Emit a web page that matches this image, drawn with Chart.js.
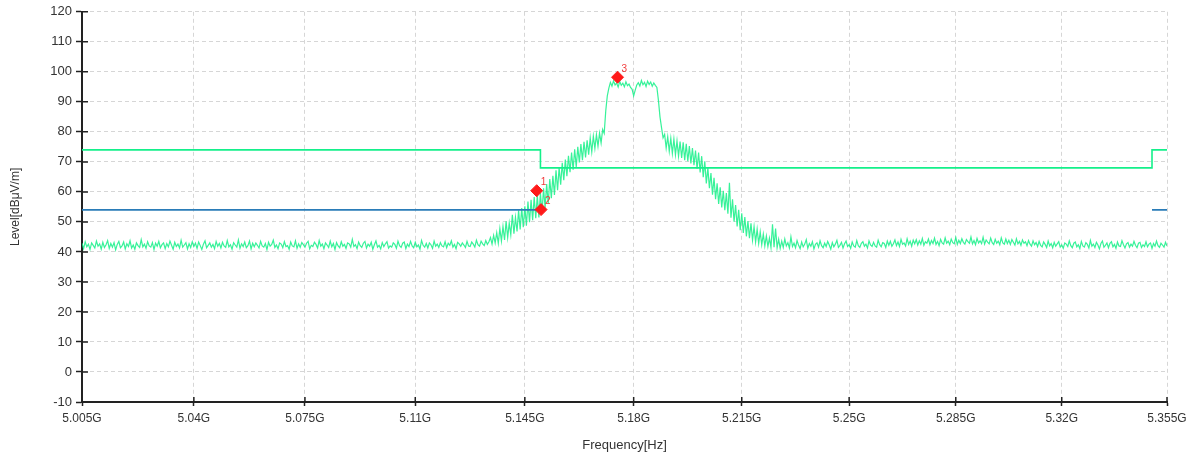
<!DOCTYPE html>
<html>
<head>
<meta charset="utf-8">
<script src="https://cdn.jsdelivr.net/npm/chart.js@4.4.1/dist/chart.umd.min.js"></script>
<style>
  body { margin: 0; background: #fff; }
  #grafico { display: block; }
</style>
</head>
<body>
<canvas id="grafico" width="1198" height="459"></canvas>
<script>
// eixo X (GHz, escala log) e eixo Y (dBuV/m)
const freqTicks = [5.005, 5.04, 5.075, 5.11, 5.145, 5.18, 5.215, 5.25, 5.285, 5.32, 5.355];
const levelMin = -10;
const levelMax = 120;

// traco medido, em 5 trechos; passo de 0.0005 GHz
const sweepStep = 0.0005;
const segStart = [5.005, 5.134, 5.172, 5.188, 5.228];

const pisoEsquerdo = [
  42.9, 41.1, 43.4, 41.7, 42.6, 40.8, 43.0, 42.2, 41.3, 43.6,
  41.9, 42.7, 40.9, 43.2, 41.5, 42.4, 43.8, 41.2, 42.8, 41.6,
  43.1, 40.7, 42.5, 43.5, 41.4, 42.0, 43.3, 41.0, 42.7, 41.8,
  43.7, 41.3, 42.3, 40.9, 43.0, 42.1, 41.5, 44.1, 41.7, 42.6,
  41.2, 43.4, 42.0, 41.6, 43.1, 40.8, 42.9, 41.9, 43.5, 41.4,
  42.4, 43.0, 41.1, 42.8, 41.7, 43.6, 42.2, 40.9, 43.2, 41.8,
  42.6, 41.3, 43.9, 41.6, 42.3, 43.1, 41.0, 42.7, 41.5, 43.4,
  41.8, 42.9, 41.2, 43.3, 42.1, 40.8, 42.6, 43.7, 41.4, 42.2,
  43.0, 41.6, 42.5, 41.1, 43.5, 41.9, 42.8, 41.3, 43.2, 42.0,
  41.5, 43.8, 41.7, 42.4, 40.9, 43.1, 42.3, 41.6, 44.0, 41.2,
  42.7, 41.8, 43.3, 41.4, 42.1, 43.6, 41.0, 42.9, 41.7, 43.0,
  42.2, 41.3, 43.5, 42.0, 41.6, 42.8, 40.8, 43.2, 41.9, 42.5,
  43.9, 41.5, 42.3, 41.1, 43.0, 42.6, 41.4, 43.4, 41.8, 42.1,
  40.9, 43.3, 42.0, 41.7, 43.7, 41.2, 42.7, 41.5, 43.1, 42.4,
  41.6, 42.9, 43.5, 41.0, 42.2, 41.8, 43.2, 42.5, 41.3, 43.8,
  41.9, 42.6, 41.1, 43.0, 42.3, 41.5, 43.6, 41.7, 42.8, 40.8,
  43.1, 42.0, 41.4, 43.4, 41.9, 42.5, 41.2, 43.0, 42.7, 41.6,
  44.2, 41.8, 42.4, 41.1, 43.3, 42.1, 41.5, 42.9, 43.5, 41.3,
  42.6, 41.9, 43.2, 40.9, 42.4, 43.7, 41.6, 42.2, 41.0, 43.1,
  41.8, 42.7, 43.4, 41.3, 42.0, 41.6, 43.0, 42.5, 41.2, 43.6,
  42.1, 41.5, 42.9, 43.3, 41.1, 42.6, 41.8, 43.5, 42.0, 41.4,
  43.2, 41.7, 42.3, 40.9, 43.8, 42.2, 41.6, 42.8, 41.3, 43.0,
  42.4, 41.2, 43.6, 41.9, 42.6, 41.5, 43.1, 42.0, 41.7, 43.4,
  41.4, 42.9, 42.2, 43.7, 41.6, 42.5, 41.1, 43.2, 42.7, 41.9,
  43.0, 42.3, 41.5, 43.5, 42.0, 41.8, 43.3, 42.6, 41.6, 43.9,
  42.4, 41.9, 43.6, 42.7, 42.1, 43.8, 42.5, 43.4
];

const subida = [
  44.8, 42.6, 45.5, 43.0, 46.4, 42.9, 47.8, 43.6, 48.5, 44.0,
  50.2, 44.8, 49.6, 45.7, 52.4, 46.1, 51.5, 46.8, 53.9, 47.5,
  54.6, 48.2, 55.2, 48.7, 56.8, 49.9, 57.4, 50.6, 58.3, 51.2,
  58.9, 51.5, 59.6, 52.8, 61.2, 54.7, 62.6, 56.1, 64.3, 57.9,
  65.4, 59.0, 67.2, 60.6, 68.1, 62.4, 69.7, 63.9, 70.8, 65.2,
  72.0, 66.6, 73.1, 67.4, 74.2, 68.3, 75.0, 69.8, 75.9, 70.6,
  76.7, 71.5, 77.2, 72.4, 78.0, 73.3, 78.6, 74.5, 79.1, 75.2,
  79.6, 76.3, 80.8, 79.5, 87.0, 92.0
];

const topo = [
  94.6, 96.5, 95.2, 97.0, 95.6, 96.3, 94.9, 96.8, 95.5, 96.2,
  95.0, 96.7, 95.4, 95.9, 94.8, 94.2, 92.0, 93.9, 95.6, 96.4,
  95.3, 97.1, 95.7, 96.5, 95.1, 96.9, 95.8, 96.6, 95.2, 96.3,
  95.5, 94.8
];

const descida = [
  90.5, 85.0, 81.4, 78.0, 79.2, 74.6, 78.4, 73.5, 77.9, 72.8,
  77.6, 72.4, 77.0, 71.9, 76.8, 71.3, 76.5, 70.6, 76.0, 70.2,
  75.3, 69.5, 74.6, 68.9, 73.8, 67.7, 73.1, 66.5, 71.9, 64.9,
  70.2, 62.8, 68.0, 61.2, 66.3, 59.1, 64.7, 57.6, 62.9, 56.0,
  61.5, 54.8, 60.4, 53.9, 59.6, 52.7, 63.0, 51.4, 57.5, 50.1,
  55.6, 48.5, 54.0, 47.2, 52.9, 46.3, 51.6, 45.2, 50.3, 44.6,
  49.5, 43.9, 48.4, 43.3, 47.6, 42.8, 46.7, 42.4, 45.9, 42.0,
  45.3, 41.8, 44.6, 41.5, 49.2, 41.6, 47.8, 41.4, 44.2, 41.2
];

const pisoDireito = [
  43.6, 41.5, 44.3, 42.0, 43.1, 41.3, 45.0, 41.8, 42.9, 41.4,
  43.8, 42.2, 41.1, 43.3, 41.7, 42.6, 44.1, 41.2, 42.8, 41.9,
  43.4, 41.0, 42.5, 43.0, 41.6, 43.7, 42.1, 41.4, 42.9, 41.8,
  43.5, 42.3, 40.9, 43.1, 41.7, 42.6, 43.9, 41.5, 42.2, 43.2,
  41.3, 42.7, 43.6, 41.8, 42.4, 41.2, 43.3, 42.0, 41.6, 43.8,
  42.1, 41.5, 42.9, 43.4, 41.9, 42.6, 41.3, 43.7, 42.3, 41.8,
  43.2, 42.0, 41.6, 43.9, 42.4, 41.7, 43.1, 42.8, 41.5, 43.6,
  42.2, 43.5, 41.9, 42.7, 44.0, 42.1, 43.3, 41.8, 44.2, 42.6,
  43.0, 42.0, 44.4, 42.5, 43.6, 41.9, 43.9, 42.7, 44.1, 42.3,
  43.7, 42.6, 44.5, 42.2, 43.4, 42.9, 44.3, 42.4, 43.8, 42.8,
  44.6, 42.5, 43.5, 42.1, 44.2, 43.0, 42.6, 44.7, 42.9, 43.6,
  42.4, 44.3, 43.1, 42.7, 44.8, 42.5, 43.9, 42.8, 44.4, 43.2,
  42.6, 44.1, 43.4, 42.9, 45.0, 42.7, 43.8, 42.4, 44.5, 43.0,
  43.7, 42.8, 44.9, 42.6, 44.0, 43.3, 42.7, 44.6, 43.1, 42.5,
  44.2, 42.9, 43.6, 42.4, 44.7, 43.0, 42.6, 44.3, 42.8, 43.9,
  42.5, 44.1, 43.2, 42.3, 44.4, 42.7, 43.5, 42.2, 44.0, 42.9,
  43.4, 42.1, 43.8, 42.6, 41.9, 43.7, 42.4, 43.1, 41.8, 43.5,
  42.2, 41.7, 43.3, 42.5, 41.5, 43.6, 42.0, 42.8, 41.4, 43.2,
  41.9, 42.7, 43.4, 41.6, 42.3, 41.2, 43.0, 42.6, 41.8, 43.7,
  42.1, 41.4, 42.9, 43.3, 41.7, 42.4, 41.1, 43.5, 42.0, 41.6,
  43.1, 42.5, 41.3, 43.8, 41.9, 42.6, 41.5, 43.2, 42.3, 41.0,
  42.8, 43.6, 41.6, 42.2, 43.0, 41.4, 42.9, 43.4, 41.7, 42.5,
  41.2, 43.3, 42.0, 41.8, 43.7, 42.4, 41.3, 42.7, 43.1, 41.6,
  42.6, 41.9, 43.5, 42.2, 41.4, 42.9, 43.2, 41.5, 42.4, 41.8,
  43.4, 41.7, 42.6, 43.0, 41.2, 42.8, 41.9, 43.6, 42.1, 41.5,
  42.9, 42.3, 41.6, 43.2, 42.0
];

const trechos = [pisoEsquerdo, subida, topo, descida, pisoDireito];

// linha limite (pico) e linha limite (media)
const limitFreq = [5.005, 5.15, 5.15, 5.35, 5.35, 5.355];
const limitLevel = [74, 74, 68, 68, 74, 74];
const avgFreq = [5.005, 5.15, 5.15, 5.35, 5.355];
const avgLevel = [54, 54, null, 54, 54];

// marcadores
const markerFreq = [5.1488, 5.1502, 5.1748];
const markerLevel = [60.4, 54.1, 98.2];
const markerName = ["1", "2", "3"];

const corVerde = "#14f08a";
const corAzul = "#2a7cb8";
const corVermelho = "#ff1a1a";
const fonte = "'Liberation Sans', Arial, sans-serif";

function pontos(xs, ys) {
  return xs.map((x, i) => ({ x: x, y: ys[i] }));
}

const traceData = [];
trechos.forEach((trecho, k) => {
  trecho.forEach((v, i) => {
    traceData.push({ x: +(segStart[k] + i * sweepStep).toFixed(5), y: v });
  });
});

// marcas dos eixos para dentro da area + nomes dos marcadores
const marcasInternas = {
  id: "marcasInternas",
  afterDatasetsDraw(chart) {
    const ctx = chart.ctx;
    const sx = chart.scales.x;
    const sy = chart.scales.y;
    const area = chart.chartArea;
    ctx.save();
    ctx.strokeStyle = "#222";
    ctx.lineWidth = 1.5;
    ctx.beginPath();
    freqTicks.forEach((f) => {
      const px = sx.getPixelForValue(f);
      ctx.moveTo(px, area.bottom);
      ctx.lineTo(px, area.bottom - 5);
    });
    sy.ticks.forEach((t) => {
      const py = sy.getPixelForValue(t.value);
      ctx.moveTo(area.left, py);
      ctx.lineTo(area.left + 6, py);
    });
    ctx.stroke();

    const meta = chart.getDatasetMeta(0);
    ctx.fillStyle = "#f03a3a";
    ctx.font = "10px " + fonte;
    ctx.textAlign = "left";
    ctx.textBaseline = "middle";
    meta.data.forEach((el, i) => {
      ctx.fillText(markerName[i], el.x + 4, el.y - 8);
    });
    ctx.restore();
  },
};

const ctx = document.getElementById("grafico").getContext("2d");

new Chart(ctx, {
  type: "line",
  data: {
    datasets: [
      {
        label: "Marcadores",
        data: pontos(markerFreq, markerLevel),
        showLine: false,
        pointStyle: "rectRot",
        pointRadius: 6,
        backgroundColor: corVermelho,
        borderColor: corVermelho,
        borderWidth: 1,
      },
      {
        label: "Limite AV",
        data: pontos(avgFreq, avgLevel),
        borderColor: corAzul,
        borderWidth: 1.6,
        pointRadius: 0,
        spanGaps: false,
      },
      {
        label: "Limite PK",
        data: pontos(limitFreq, limitLevel),
        borderColor: corVerde,
        borderWidth: 1.6,
        pointRadius: 0,
      },
      {
        label: "Traco",
        data: traceData,
        borderColor: "rgba(20, 240, 135, 0.85)",
        borderWidth: 1.2,
        pointRadius: 0,
        tension: 0,
      },
    ],
  },
  options: {
    responsive: false,
    animation: false,
    layout: {
      padding: { left: 0, right: 31, top: 10, bottom: 0 },
    },
    plugins: {
      legend: { display: false },
      tooltip: { enabled: false },
    },
    scales: {
      x: {
        type: "logarithmic",
        min: 5.005,
        max: 5.355,
        afterBuildTicks: (scale) => {
          scale.ticks = freqTicks.map((v) => ({ value: v, major: false }));
        },
        afterFit: (scale) => {
          scale.height = 57;
        },
        ticks: {
          autoSkip: false,
          maxRotation: 0,
          padding: 5,
          color: "#333",
          font: { family: fonte, size: 12 },
          callback: (value) => parseFloat(Number(value).toFixed(3)) + "G",
        },
        grid: {
          color: "#d6d6d6",
          lineWidth: 1,
          tickColor: "#222",
          tickLength: 4,
          tickWidth: 1.5,
        },
        border: { display: true, color: "#222", width: 2, dash: [4, 3] },
        title: {
          display: true,
          text: "Frequency[Hz]",
          color: "#333",
          font: { family: fonte, size: 13 },
          padding: { top: 4, bottom: 6 },
        },
      },
      y: {
        min: levelMin,
        max: levelMax,
        afterFit: (scale) => {
          scale.width = 82;
        },
        ticks: {
          stepSize: 10,
          padding: 4,
          color: "#333",
          font: { family: fonte, size: 13 },
        },
        grid: {
          color: "#d6d6d6",
          lineWidth: 1,
          tickColor: "#222",
          tickLength: 6,
          tickWidth: 1.5,
        },
        border: { display: true, color: "#222", width: 2, dash: [4, 3] },
        title: {
          display: true,
          text: "Level[dBμV/m]",
          color: "#333",
          font: { family: fonte, size: 12 },
          padding: { top: 8, bottom: 0 },
        },
      },
    },
  },
  plugins: [marcasInternas],
});
</script>
</body>
</html>
